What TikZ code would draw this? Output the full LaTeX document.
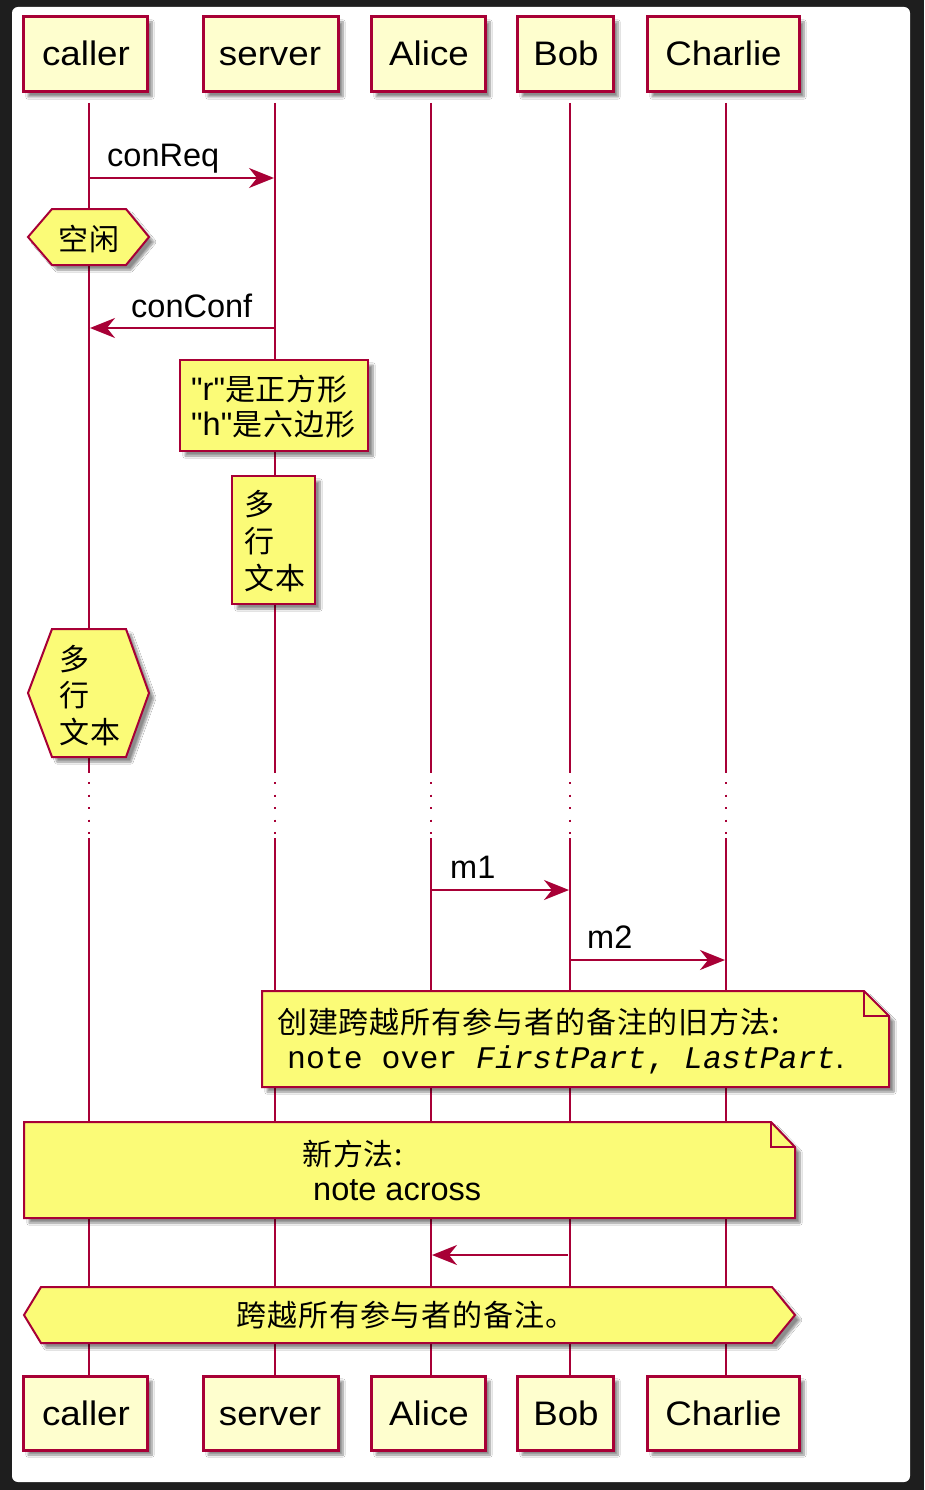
\documentclass[tikz,border=0pt]{standalone}
\usepackage{fontspec}
\setmainfont{Liberation Sans}
\newfontfamily\lat{Liberation Sans}
\newfontfamily\plat[FakeStretch=1.08]{Liberation Sans}
\newfontfamily\cjk[LetterSpace=3]{Noto Sans CJK SC}
\newfontfamily\mono{Liberation Mono}
\newcommand\myltx{\lat\fontsize{32.5}{38}\selectfont}
\usetikzlibrary{arrows.meta,shadows.blur}
\definecolor{pborder}{HTML}{A80036}
\definecolor{pfill}{HTML}{FEFECE}
\definecolor{nfill}{HTML}{FBFB77}
\definecolor{bgdark}{HTML}{1E1E1E}
\tikzset{
  shad/.style={blur shadow={shadow xshift=5pt, shadow yshift=-5pt, shadow blur steps=8, shadow opacity=45}},
  part/.style={draw=pborder, line width=3pt, fill=pfill, inner sep=0pt, shad},
  notebox/.style={draw=pborder, line width=2pt, fill=nfill, inner sep=0pt, shad},
  notepath/.style={draw=pborder, line width=2pt, fill=nfill, line join=miter, shad},
  life/.style={draw=pborder, line width=2pt},
  lifedot/.style={draw=pborder, line width=2pt, dash pattern=on 2pt off 10.5pt},
  msg/.style={draw=pborder, line width=2pt, -{Stealth[length=25pt,width=20pt,inset=8pt]}},
  ptext/.style={anchor=base, inner sep=0pt, font=\plat\fontsize{34}{40}\selectfont},
  mtext/.style={anchor=base west, inner sep=0pt, font=\myltx},
  ntext/.style={anchor=base west, inner sep=0pt, font=\fontsize{30}{36}\selectfont},
}
\begin{document}
\begin{tikzpicture}[x=1pt,y=-1pt]
\fill[bgdark] (0,0) rectangle (924,1490);
\fill[white, rounded corners=6pt] (12,7) rectangle (910,1482);
\useasboundingbox (0,0) rectangle (924,1490);

% lifelines
\foreach \n/\x in {caller/89,server/275,alice/431,bob/570,charlie/726}{
  \coordinate (\n-a) at (\x,103);
  \coordinate (\n-b) at (\x,773);
  \coordinate (\n-b2) at (\x,782);
  \coordinate (\n-c2) at (\x,834);
  \coordinate (\n-c) at (\x,838);
  \coordinate (\n-d) at (\x,1376);
  \draw[life] (\n-a) -- (\n-b);
  \draw[lifedot] (\n-b2) -- (\n-c2);
  \draw[life] (\n-c) -- (\n-d);
}

% participants top
\node[part, minimum width=124pt, minimum height=75pt] (callerT) at (85,54.5) {};
\node[part, minimum width=135pt, minimum height=75pt] (serverT) at (270.5,54.5) {};
\node[part, minimum width=114pt, minimum height=75pt] (aliceT) at (428,54.5) {};
\node[part, minimum width=96pt, minimum height=75pt] (bobT) at (565,54.5) {};
\node[part, minimum width=152pt, minimum height=75pt] (charlieT) at (723,54.5) {};
\node[ptext] (callerTl) at (86,66) {caller};
\node[ptext] (serverTl) at (270,66) {server};
\node[ptext] (aliceTl) at (429,66) {Alice};
\node[ptext] (bobTl) at (566,66) {Bob};
\node[ptext] (charlieTl) at (723.5,66) {Charlie};

% participants bottom
\node[part, minimum width=124pt, minimum height=74pt] (callerB) at (85,1413) {};
\node[part, minimum width=135pt, minimum height=74pt] (serverB) at (270.5,1413) {};
\node[part, minimum width=114pt, minimum height=74pt] (aliceB) at (428,1413) {};
\node[part, minimum width=96pt, minimum height=74pt] (bobB) at (565,1413) {};
\node[part, minimum width=152pt, minimum height=74pt] (charlieB) at (723,1413) {};
\node[ptext] (callerBl) at (86,1425) {caller};
\node[ptext] (serverBl) at (270,1425) {server};
\node[ptext] (aliceBl) at (429,1425) {Alice};
\node[ptext] (bobBl) at (566,1425) {Bob};
\node[ptext] (charlieBl) at (723.5,1425) {Charlie};

% conReq
\coordinate (r1s) at (89,178);
\coordinate (r1e) at (274,178);
\draw[msg] (r1s) -- (r1e);
\node[mtext] (r1l) at (107,167) {conReq};

% idle hexagon
\path[notepath] (28,237) -- (52,209) -- (126,209) -- (149,237) -- (126,265) -- (52,265) -- cycle;
\node[ntext, anchor=base] (idle) at (89,250) {\cjk 空闲};

% conConf
\coordinate (r2s) at (275,328);
\coordinate (r2e) at (90,328);
\draw[msg] (r2s) -- (r2e);
\node[mtext] (r2l) at (131,317) {conConf};

% rnote
\node[notebox, minimum width=188pt, minimum height=91pt] (rnote) at (274,405.5) {};
\node[ntext] (rn1) at (191,400) {{\myltx"r"}{\cjk 是正方形}};
\node[ntext] (rn2) at (191,435) {{\myltx"h"}{\cjk 是六边形}};

% multi line rect
\node[notebox, minimum width=83pt, minimum height=128pt] (mrect) at (273.5,540) {};
\node[ntext] (mr1) at (244,515) {\cjk 多};
\node[ntext] (mr2) at (244,552) {\cjk 行};
\node[ntext] (mr3) at (244,589) {\cjk 文本};

% multi line hexagon
\path[notepath] (28,693) -- (52,629) -- (126,629) -- (149,693) -- (126,757) -- (52,757) -- cycle;
\node[ntext] (mh1) at (59,670) {\cjk 多};
\node[ntext] (mh2) at (59,706) {\cjk 行};
\node[ntext] (mh3) at (59,743) {\cjk 文本};

% m1, m2
\coordinate (m1s) at (431,890);
\coordinate (m1e) at (569,890);
\draw[msg] (m1s) -- (m1e);
\node[mtext] (m1l) at (450,878) {m1};
\coordinate (m2s) at (570,960);
\coordinate (m2e) at (725,960);
\draw[msg] (m2s) -- (m2e);
\node[mtext] (m2l) at (587,948) {m2};

% old note
\path[notepath] (262,991) -- (864,991) -- (889,1016) -- (889,1087) -- (262,1087) -- cycle;
\draw[pborder, line width=2pt] (864,991) -- (864,1016) -- (889,1016);
\node[ntext] (on1) at (277,1033) {\cjk 创建跨越所有参与者的备注的旧方法:};
\node[ntext] (on2) at (287,1068) {{\mono\fontsize{31.5}{38}\selectfont note over \itshape FirstPart\upshape, \itshape LastPart}{\myltx.}};

% new note
\path[notepath] (24,1122) -- (771,1122) -- (795,1147) -- (795,1218) -- (24,1218) -- cycle;
\draw[pborder, line width=2pt] (771,1122) -- (771,1147) -- (795,1147);
\node[ntext] (nn1) at (302,1165) {\cjk 新方法:};
\node[ntext] (nn2) at (313,1200) {\myltx note across};

% return arrow
\coordinate (r3s) at (568,1255);
\coordinate (r3e) at (432,1255);
\draw[msg] (r3s) -- (r3e);

% across hexagon
\path[notepath] (24,1315) -- (41,1287) -- (772,1287) -- (795,1315) -- (772,1343) -- (41,1343) -- cycle;
\node[ntext, anchor=base] (acr) at (406,1326) {\cjk 跨越所有参与者的备注。};
\end{tikzpicture}
\end{document}
